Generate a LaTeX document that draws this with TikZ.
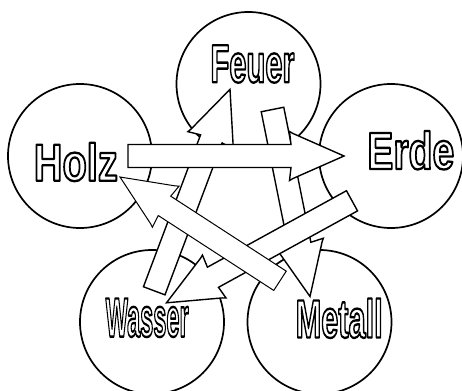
\documentclass[tikz,border=0pt]{standalone}
\usepackage{fontspec}
\setmainfont{Liberation Sans}
\usepackage{graphicx}
\usetikzlibrary{calc}
\newcommand\sw{11.5pt}
\newcommand\wordlabel[3]{\resizebox{#1}{#2}{\fontsize{50}{50}\selectfont\bfseries\special{pdf:literal direct 1 g 0 G 2 Tr 2.2 w 1 j}#3\special{pdf:literal direct 0 Tr 1 w 0 j 0 g 0 G}}}
\newcommand\blockarrow[3][]{%
  \draw[blk,#1]
    ($(#2)!\sw!90:(#3)$) --
    ($(#3)!53pt!(#2)!\sw!-90:(#2)$) --
    ($(#3)!54.5pt!(#2)!24.5pt!-90:(#2)$) --
    ($(#3)!51pt!(#2)!22.5pt!-90:(#2)$) --
    (#3) --
    ($(#3)!51pt!(#2)!22.5pt!90:(#2)$) --
    ($(#3)!54.5pt!(#2)!24.5pt!90:(#2)$) --
    ($(#3)!53pt!(#2)!\sw!90:(#2)$) --
    ($(#2)!\sw!-90:(#3)$) -- cycle;}
\tikzset{
  elem/.style={circle, draw=black, line width=1.7pt, fill=white, minimum size=144pt, inner sep=0pt},
  blk/.style={draw=black, fill=white, line width=1.4pt, line join=miter, miter limit=4},
  thinblk/.style={line width=1pt},
  word/.style={inner sep=0pt},
}
\begin{document}
\begin{tikzpicture}[x=1pt,y=-1pt]
\fill[white] (0,0) rectangle (462,390);
\useasboundingbox (0,0) rectangle (462,390);
% element circles
\node[elem] (feuer)  at (248.5,84) {};
\node[elem] (holz)   at (80,156) {};
\node[elem] (erde)   at (391,156) {};
\node[elem] (wasser) at (152,322) {};
\node[elem] (metall) at (319.5,322) {};
% arrow end points
\coordinate (fm-t) at (272.5,109.5);
\coordinate (fm-h) at (310,296.5);
\coordinate (wf-t) at (154.2,290.8);
\coordinate (wf-h) at (230,89.3);
\coordinate (he-t) at (128,156);
\coordinate (he-h) at (344,156);
\coordinate (ew-t) at (352,200.8);
\coordinate (ew-h) at (166.5,302.8);
\coordinate (mh-t) at (280,280.8);
\coordinate (mh-h) at (120,177);
% block arrows (drawing order = stacking order)
\blockarrow{fm-t}{fm-h}
\blockarrow{wf-t}{wf-h}
\blockarrow{he-t}{he-h}
\blockarrow{ew-t}{ew-h}
\blockarrow[thinblk]{mh-t}{mh-h}
% labels
\node[word] (lfeuer)  at (252.5,64)  {\wordlabel{84pt}{37pt}{Feuer}};
\node[word] (lholz)   at (75.8,162)  {\wordlabel{84pt}{38pt}{Holz}};
\node[word] (lerde)   at (410.8,150.3) {\wordlabel{87pt}{38pt}{Erde}};
\node[word] (lwasser) at (147.2,317.8) {\wordlabel{83pt}{38pt}{Wasser}};
\node[word] (lmetall) at (339.2,318.3) {\wordlabel{87pt}{39pt}{Metall}};
\end{tikzpicture}
\end{document}
